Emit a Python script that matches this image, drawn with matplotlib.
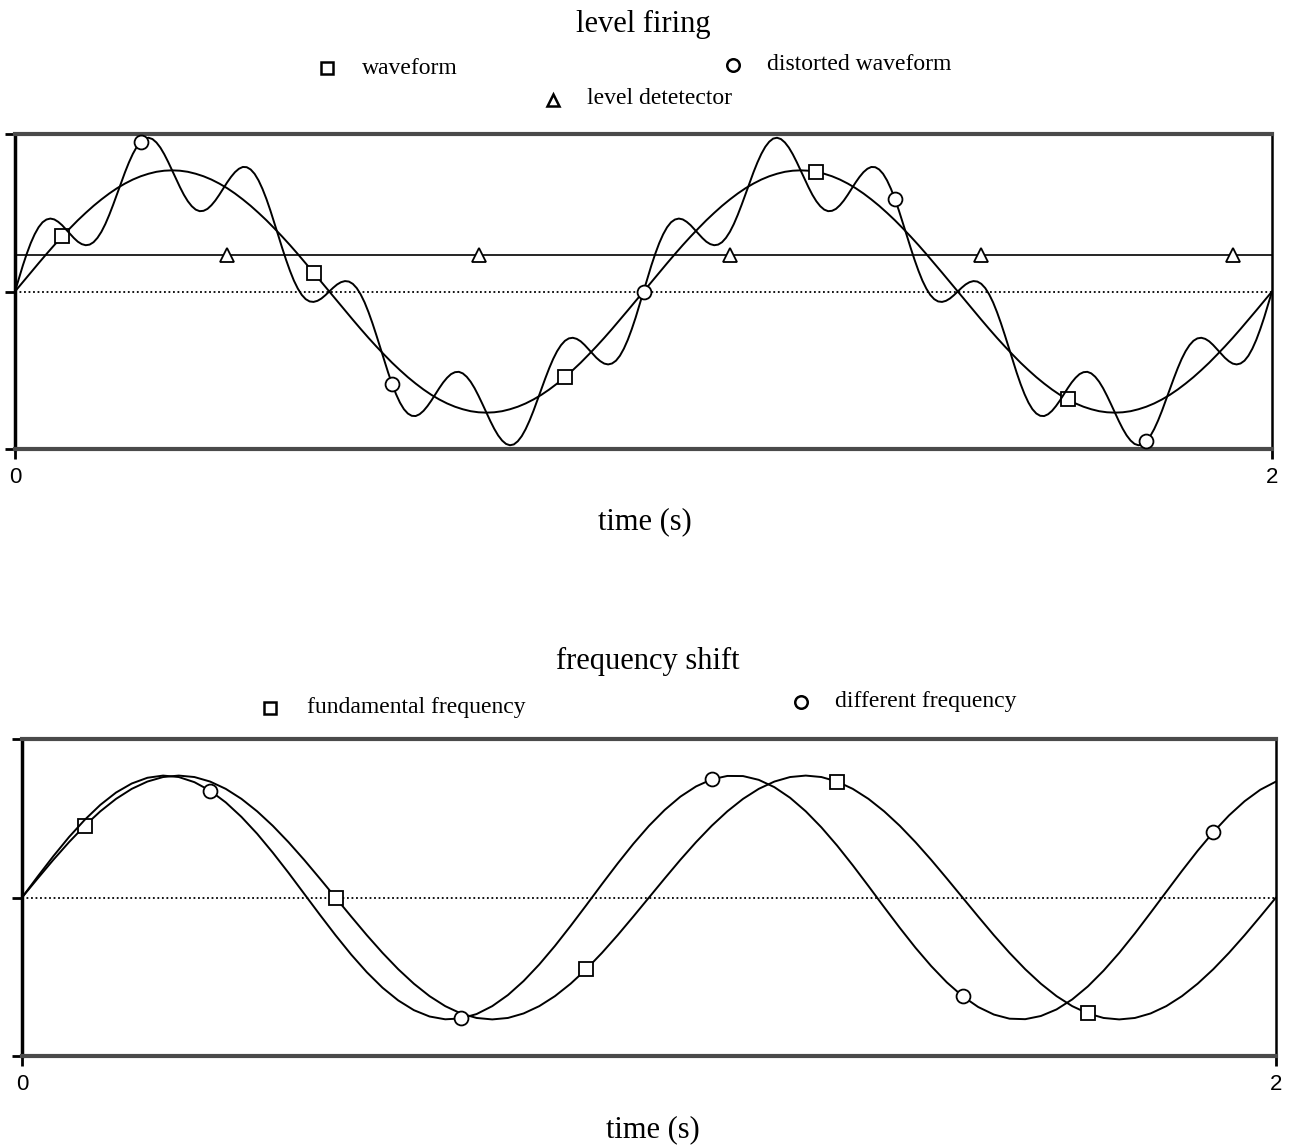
import numpy as np
import matplotlib
matplotlib.use("Agg")
import matplotlib.pyplot as plt

# ---------------- data ----------------
# top panel, waveform: samples every 0.0125 s from 0 to 2 s
wave_step = 0.0125
waveform = [
    0.000, 0.078, 0.156, 0.233, 0.309, 0.383, 0.454, 0.522, 0.588, 0.649,
    0.707, 0.760, 0.809, 0.853, 0.891, 0.924, 0.951, 0.972, 0.988, 0.997,
    1.000, 0.997, 0.988, 0.972, 0.951, 0.924, 0.891, 0.853, 0.809, 0.760,
    0.707, 0.649, 0.588, 0.522, 0.454, 0.383, 0.309, 0.233, 0.156, 0.078,
    0.000, -0.078, -0.156, -0.233, -0.309, -0.383, -0.454, -0.522, -0.588, -0.649,
    -0.707, -0.760, -0.809, -0.853, -0.891, -0.924, -0.951, -0.972, -0.988, -0.997,
    -1.000, -0.997, -0.988, -0.972, -0.951, -0.924, -0.891, -0.853, -0.809, -0.760,
    -0.707, -0.649, -0.588, -0.522, -0.454, -0.383, -0.309, -0.233, -0.156, -0.078,
    0.000, 0.078, 0.156, 0.233, 0.309, 0.383, 0.454, 0.522, 0.588, 0.649,
    0.707, 0.760, 0.809, 0.853, 0.891, 0.924, 0.951, 0.972, 0.988, 0.997,
    1.000, 0.997, 0.988, 0.972, 0.951, 0.924, 0.891, 0.853, 0.809, 0.760,
    0.707, 0.649, 0.588, 0.522, 0.454, 0.383, 0.309, 0.233, 0.156, 0.078,
    0.000, -0.078, -0.156, -0.233, -0.309, -0.383, -0.454, -0.522, -0.588, -0.649,
    -0.707, -0.760, -0.809, -0.853, -0.891, -0.924, -0.951, -0.972, -0.988, -0.997,
    -1.000, -0.997, -0.988, -0.972, -0.951, -0.924, -0.891, -0.853, -0.809, -0.760,
    -0.707, -0.649, -0.588, -0.522, -0.454, -0.383, -0.309, -0.233, -0.156, -0.078,
    0.000,
]

# top panel, distorted waveform: samples every 0.00625 s from 0 to 2 s
dist_step = 0.00625
distorted = [
    0.000, 0.109, 0.215, 0.312, 0.399, 0.472, 0.530, 0.571, 0.594, 0.602,
    0.595, 0.575, 0.547, 0.512, 0.476, 0.441, 0.411, 0.391, 0.382, 0.387,
    0.407, 0.443, 0.493, 0.557, 0.633, 0.717, 0.806, 0.896, 0.984, 1.065,
    1.136, 1.194, 1.236, 1.262, 1.269, 1.258, 1.230, 1.188, 1.133, 1.069,
    1.000, 0.929, 0.861, 0.798, 0.745, 0.704, 0.676, 0.663, 0.666, 0.682,
    0.712, 0.751, 0.798, 0.849, 0.900, 0.946, 0.985, 1.013, 1.028, 1.026,
    1.007, 0.971, 0.917, 0.847, 0.764, 0.670, 0.569, 0.465, 0.361, 0.262,
    0.171, 0.090, 0.024, -0.028, -0.063, -0.082, -0.086, -0.077, -0.058, -0.031,
    0.000, 0.031, 0.058, 0.077, 0.086, 0.082, 0.063, 0.028, -0.024, -0.090,
    -0.171, -0.262, -0.361, -0.465, -0.569, -0.670, -0.764, -0.847, -0.917, -0.971,
    -1.007, -1.026, -1.028, -1.013, -0.985, -0.946, -0.900, -0.849, -0.798, -0.751,
    -0.712, -0.682, -0.666, -0.663, -0.676, -0.704, -0.745, -0.798, -0.861, -0.929,
    -1.000, -1.069, -1.133, -1.188, -1.230, -1.258, -1.269, -1.262, -1.236, -1.194,
    -1.136, -1.065, -0.984, -0.896, -0.806, -0.717, -0.633, -0.557, -0.493, -0.443,
    -0.407, -0.387, -0.382, -0.391, -0.411, -0.441, -0.476, -0.512, -0.547, -0.575,
    -0.595, -0.602, -0.594, -0.571, -0.530, -0.472, -0.399, -0.312, -0.215, -0.109,
    0.000, 0.109, 0.215, 0.312, 0.399, 0.472, 0.530, 0.571, 0.594, 0.602,
    0.595, 0.575, 0.547, 0.512, 0.476, 0.441, 0.411, 0.391, 0.382, 0.387,
    0.407, 0.443, 0.493, 0.557, 0.633, 0.717, 0.806, 0.896, 0.984, 1.065,
    1.136, 1.194, 1.236, 1.262, 1.269, 1.258, 1.230, 1.188, 1.133, 1.069,
    1.000, 0.929, 0.861, 0.798, 0.745, 0.704, 0.676, 0.663, 0.666, 0.682,
    0.712, 0.751, 0.798, 0.849, 0.900, 0.946, 0.985, 1.013, 1.028, 1.026,
    1.007, 0.971, 0.917, 0.847, 0.764, 0.670, 0.569, 0.465, 0.361, 0.262,
    0.171, 0.090, 0.024, -0.028, -0.063, -0.082, -0.086, -0.077, -0.058, -0.031,
    0.000, 0.031, 0.058, 0.077, 0.086, 0.082, 0.063, 0.028, -0.024, -0.090,
    -0.171, -0.262, -0.361, -0.465, -0.569, -0.670, -0.764, -0.847, -0.917, -0.971,
    -1.007, -1.026, -1.028, -1.013, -0.985, -0.946, -0.900, -0.849, -0.798, -0.751,
    -0.712, -0.682, -0.666, -0.663, -0.676, -0.704, -0.745, -0.798, -0.861, -0.929,
    -1.000, -1.069, -1.133, -1.188, -1.230, -1.258, -1.269, -1.262, -1.236, -1.194,
    -1.136, -1.065, -0.984, -0.896, -0.806, -0.717, -0.633, -0.557, -0.493, -0.443,
    -0.407, -0.387, -0.382, -0.391, -0.411, -0.441, -0.476, -0.512, -0.547, -0.575,
    -0.595, -0.602, -0.594, -0.571, -0.530, -0.472, -0.399, -0.312, -0.215, -0.109,
    0.000,
]

# top panel, level detector
level_times = [0.0, 0.3375, 0.7375, 1.1375, 1.5375, 1.9375, 2.0]
level_values = [0.3, 0.3, 0.3, 0.3, 0.3, 0.3, 0.3]

# bottom panel: samples every 0.025 s from 0 to 2 s
bot_step = 0.025
fundamental = [
    0.000, 0.156, 0.309, 0.454, 0.588, 0.707, 0.809, 0.891, 0.951, 0.988,
    1.000, 0.988, 0.951, 0.891, 0.809, 0.707, 0.588, 0.454, 0.309, 0.156,
    0.000, -0.156, -0.309, -0.454, -0.588, -0.707, -0.809, -0.891, -0.951, -0.988,
    -1.000, -0.988, -0.951, -0.891, -0.809, -0.707, -0.588, -0.454, -0.309, -0.156,
    0.000, 0.156, 0.309, 0.454, 0.588, 0.707, 0.809, 0.891, 0.951, 0.988,
    1.000, 0.988, 0.951, 0.891, 0.809, 0.707, 0.588, 0.454, 0.309, 0.156,
    0.000, -0.156, -0.309, -0.454, -0.588, -0.707, -0.809, -0.891, -0.951, -0.988,
    -1.000, -0.988, -0.951, -0.891, -0.809, -0.707, -0.588, -0.454, -0.309, -0.156,
    0.000,
]
different = [
    0.000, 0.172, 0.339, 0.496, 0.637, 0.760, 0.861, 0.935, 0.982, 1.000,
    0.988, 0.946, 0.876, 0.780, 0.661, 0.523, 0.368, 0.203, 0.031, -0.141,
    -0.309, -0.468, -0.613, -0.740, -0.844, -0.924, -0.976, -0.999, -0.992, -0.956,
    -0.891, -0.800, -0.685, -0.549, -0.397, -0.233, -0.063, 0.110, 0.279, 0.440,
    0.588, 0.718, 0.827, 0.911, 0.969, 0.997, 0.996, 0.965, 0.905, 0.818,
    0.707, 0.575, 0.426, 0.264, 0.094, -0.079, -0.249, -0.412, -0.562, -0.696,
    -0.809, -0.898, -0.960, -0.994, -0.998, -0.972, -0.918, -0.836, -0.729, -0.600,
    -0.454, -0.294, -0.125, 0.047, 0.218, 0.383, 0.536, 0.673, 0.790, 0.884,
    0.951,
]

x_ticks = [0, 2]
x_tick_labels = ["0", "2"]

# ---------------- figure ----------------
W, H = 1290, 1148
fig = plt.figure(figsize=(W / 100, H / 100), dpi=100)

serif = ["Liberation Serif", "DejaVu Serif"]
sans = ["Liberation Sans", "DejaVu Sans"]

t_wave = np.arange(len(waveform)) * wave_step
t_dist = np.arange(len(distorted)) * dist_step
t_bot = np.arange(len(fundamental)) * bot_step


def px_axes(left, top, right, bottom):
    return fig.add_axes([left / W, 1 - bottom / H, (right - left) / W, (bottom - top) / H])


def style(ax):
    ax.set_xlim(0, 2)
    ax.set_ylim(-1.3, 1.3)
    ax.set_yticks([-1.3, 0, 1.3])
    ax.set_yticklabels([])
    ax.set_xticks(x_ticks)
    ax.set_xticklabels(x_tick_labels, fontfamily=sans, fontsize=16)
    ax.tick_params(axis="both", direction="out", length=7, width=2, pad=6, color="black")
    for s in ("top", "bottom"):
        ax.spines[s].set_linewidth(3)
        ax.spines[s].set_color("#4a4a4a")
    ax.spines["left"].set_linewidth(2.5)
    ax.spines["right"].set_linewidth(1.8)
    ax.axhline(0, color="black", lw=1.3, ls=(0, (1, 1.5)), zorder=1)


mk = dict(markerfacecolor="white", markeredgecolor="black", markeredgewidth=1.3, markersize=10)
line = dict(color="black", lw=1.4, solid_joinstyle="round", solid_capstyle="round")

# top panel
ax1 = px_axes(15, 134, 1272, 449)
style(ax1)
ax1.plot(level_times, level_values, color="black", lw=1.2, marker="^",
         markevery=[1, 2, 3, 4, 5], zorder=2, **mk)
ax1.plot(t_wave, waveform, marker="s", markevery=(6, 32), zorder=3, **line, **mk)
ax1.plot(t_dist, distorted, marker="o", markevery=(32, 64), zorder=4, **line, **mk)

# bottom panel
ax2 = px_axes(22, 739, 1276, 1056)
style(ax2)
ax2.plot(t_bot, fundamental, marker="s", markevery=(4, 16), zorder=3, **line, **mk)
ax2.plot(t_bot, different, marker="o", markevery=(12, 16), zorder=4, **line, **mk)

# overlay for titles, labels and legends (pixel coordinates)
ov = fig.add_axes([0, 0, 1, 1], zorder=10)
ov.set_xlim(0, W)
ov.set_ylim(H, 0)
ov.axis("off")
ov.patch.set_alpha(0)

lg = dict(markerfacecolor="white", markeredgecolor="black", markeredgewidth=1.8, markersize=9,
          linestyle="none")


def text(x, y, s, size, ha="center"):
    ov.text(x, y, s, fontsize=size, fontfamily=serif, ha=ha, va="center")


text(643, 24, "level firing", 22)
ov.plot([327], [68], marker="s", **lg)
text(362, 68, "waveform", 17, ha="left")
ov.plot([733], [65], marker="o", **lg)
text(767, 64, "distorted waveform", 17, ha="left")
ov.plot([553], [100], marker="^", **lg)
text(587, 99, "level detetector", 17, ha="left")
text(645, 522, "time (s)", 22)

text(648, 661, "frequency shift", 22)
ov.plot([270], [708], marker="s", **lg)
text(307, 707, "fundamental frequency", 17, ha="left")
ov.plot([801], [702], marker="o", **lg)
text(835, 701, "different frequency", 17, ha="left")
text(653, 1130, "time (s)", 22)

fig.savefig("out.png", dpi=100)
